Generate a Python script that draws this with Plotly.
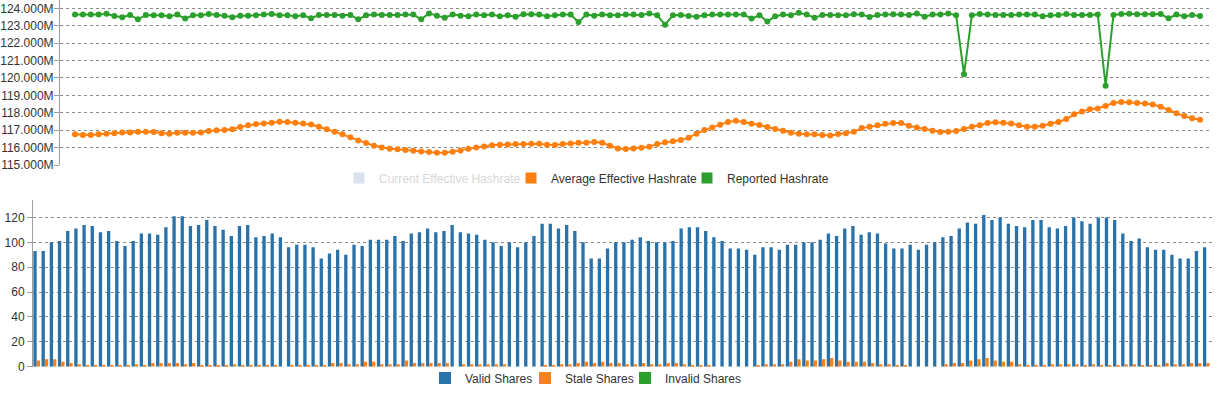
import plotly.graph_objects as go

# ---------------- data ----------------
slots = list(range(144))  # 10-minute slots over 24h

reported_hashrate_m = [
    123.65, 123.65, 123.65, 123.64, 123.69, 123.56, 123.49, 123.62, 123.37, 123.62,
    123.60, 123.60, 123.54, 123.64, 123.41, 123.60, 123.60, 123.67, 123.62, 123.58,
    123.49, 123.58, 123.58, 123.60, 123.64, 123.67, 123.60, 123.60, 123.54, 123.60,
    123.43, 123.62, 123.62, 123.62, 123.58, 123.62, 123.37, 123.60, 123.65, 123.62,
    123.62, 123.62, 123.64, 123.64, 123.37, 123.71, 123.58, 123.46, 123.64, 123.58,
    123.54, 123.64, 123.60, 123.64, 123.54, 123.60, 123.52, 123.66, 123.66, 123.64,
    123.54, 123.60, 123.64, 123.64, 123.21, 123.64, 123.58, 123.64, 123.60, 123.60,
    123.64, 123.64, 123.62, 123.71, 123.60, 123.06, 123.60, 123.62, 123.56, 123.52,
    123.60, 123.64, 123.64, 123.64, 123.64, 123.64, 123.41, 123.60, 123.25, 123.54,
    123.64, 123.60, 123.75, 123.64, 123.46, 123.62, 123.62, 123.60, 123.60, 123.66,
    123.64, 123.50, 123.62, 123.64, 123.66, 123.64, 123.62, 123.71, 123.52, 123.64,
    123.64, 123.71, 123.60, 120.21, 123.60, 123.67, 123.64, 123.62, 123.62, 123.62,
    123.64, 123.64, 123.64, 123.54, 123.60, 123.62, 123.67, 123.62, 123.62, 123.62,
    123.64, 119.56, 123.62, 123.67, 123.69, 123.66, 123.66, 123.66, 123.67, 123.43,
    123.64, 123.54, 123.62, 123.56,
]

average_hashrate_m = [
    116.76, 116.72, 116.72, 116.76, 116.80, 116.83, 116.87, 116.87, 116.91, 116.91,
    116.89, 116.83, 116.80, 116.85, 116.85, 116.85, 116.87, 116.95, 116.99, 117.01,
    117.05, 117.18, 117.28, 117.35, 117.39, 117.43, 117.49, 117.47, 117.43, 117.39,
    117.33, 117.20, 117.06, 116.91, 116.76, 116.59, 116.41, 116.26, 116.11, 116.01,
    115.93, 115.90, 115.86, 115.82, 115.78, 115.74, 115.71, 115.71, 115.76, 115.84,
    115.94, 116.01, 116.07, 116.13, 116.16, 116.18, 116.20, 116.20, 116.22, 116.22,
    116.16, 116.15, 116.20, 116.24, 116.28, 116.28, 116.32, 116.28, 116.11, 115.95,
    115.92, 115.95, 115.99, 116.05, 116.20, 116.30, 116.36, 116.43, 116.57, 116.80,
    117.01, 117.16, 117.31, 117.47, 117.54, 117.47, 117.37, 117.30, 117.18, 117.07,
    116.97, 116.85, 116.80, 116.76, 116.76, 116.72, 116.70, 116.78, 116.82, 116.91,
    117.12, 117.20, 117.28, 117.37, 117.41, 117.41, 117.26, 117.16, 117.07, 116.97,
    116.89, 116.91, 116.95, 117.07, 117.20, 117.28, 117.41, 117.45, 117.43, 117.39,
    117.28, 117.20, 117.20, 117.26, 117.37, 117.47, 117.64, 117.91, 118.08, 118.20,
    118.25, 118.39, 118.56, 118.62, 118.60, 118.56, 118.54, 118.48, 118.35, 118.16,
    117.97, 117.81, 117.68, 117.60,
]

valid_shares = [
    93, 93, 100, 101, 109, 111, 114, 113, 108, 109,
    101, 97, 101, 107, 107, 106, 112, 121, 121, 113,
    114, 118, 113, 110, 105, 113, 114, 104, 105, 107,
    104, 96, 98, 98, 96, 87, 91, 94, 90, 98,
    97, 102, 102, 102, 105, 101, 107, 108, 111, 108,
    109, 114, 108, 107, 106, 102, 100, 97, 100, 96,
    100, 105, 115, 115, 111, 114, 109, 100, 87, 87,
    95, 100, 100, 102, 104, 101, 100, 100, 101, 111,
    112, 112, 109, 104, 101, 95, 95, 94, 90, 96,
    96, 94, 98, 98, 100, 100, 102, 107, 105, 111,
    113, 106, 108, 107, 99, 95, 95, 98, 94, 98,
    100, 104, 105, 111, 116, 115, 122, 118, 120, 115,
    113, 112, 118, 118, 112, 111, 113, 120, 117, 115,
    120, 120, 118, 107, 101, 103, 96, 94, 94, 90,
    87, 87, 93, 96,
]

stale_shares = [
    5, 6, 6, 4, 3, 2, 1, 1, 1, 1,
    1, 1, 2, 1, 3, 3, 3, 3, 2, 3,
    1, 1, 1, 1, 2, 1, 1, 1, 1, 1,
    0, 1, 1, 1, 1, 1, 3, 3, 2, 2,
    4, 4, 2, 2, 2, 5, 3, 3, 3, 3,
    3, 0, 2, 2, 2, 2, 2, 2, 0, 0,
    0, 0, 1, 1, 2, 2, 3, 4, 3, 4,
    3, 3, 2, 2, 3, 2, 2, 3, 3, 2,
    1, 1, 1, 0, 0, 0, 0, 0, 1, 2,
    2, 2, 4, 6, 5, 5, 6, 7, 5, 4,
    4, 4, 3, 2, 2, 1, 1, 0, 0, 0,
    0, 2, 3, 3, 5, 6, 7, 5, 4, 4,
    2, 1, 1, 1, 2, 2, 2, 2, 1, 2,
    1, 1, 1, 2, 2, 1, 1, 1, 3, 2,
    2, 3, 3, 3,
]

invalid_shares = [0] * 144

hashrate_ticks = [115, 116, 117, 118, 119, 120, 121, 122, 123, 124]
hashrate_tick_labels = [f"{v:.3f}M" for v in hashrate_ticks]
share_ticks = [0, 20, 40, 60, 80, 100, 120]

# ---------------- styling ----------------
W, H = 1217, 393
FONT = "Liberation Sans, Arial, sans-serif"
GRID = "#8c8c8c"
AXIS = "#a0a0a0"
BLUE = "#2a72aa"
ORANGE = "#ff7f0e"
ORANGE_BAR = "#f5821f"
GREEN = "#2ca02c"


def px_x(p):
    return p / W


def px_y(p):
    return (H - p) / H


fig = go.Figure()

# ---- top chart: hashrates ----
fig.add_trace(go.Scatter(
    x=slots, y=average_hashrate_m, mode="lines+markers",
    line=dict(color=ORANGE, width=2), marker=dict(color=ORANGE, size=6),
    xaxis="x", yaxis="y", showlegend=False, name="Average Effective Hashrate",
))
fig.add_trace(go.Scatter(
    x=slots, y=reported_hashrate_m, mode="lines+markers",
    line=dict(color=GREEN, width=2), marker=dict(color=GREEN, size=6),
    xaxis="x", yaxis="y", showlegend=False, name="Reported Hashrate",
))

# legend entries (square swatches) for top chart
fig.add_trace(go.Scatter(
    x=[None], y=[None], mode="markers", visible="legendonly",
    marker=dict(symbol="square", size=11, color="#b7c9dd"),
    name="<span style='color:#b0b0b0'>Current Effective Hashrate</span>",
    xaxis="x", yaxis="y", legend="legend", legendwidth=127,
))
fig.add_trace(go.Scatter(
    x=[None], y=[None], mode="markers",
    marker=dict(symbol="square", size=11, color=ORANGE),
    name="Average Effective Hashrate", xaxis="x", yaxis="y", legend="legend",
    legendwidth=131,
))
fig.add_trace(go.Scatter(
    x=[None], y=[None], mode="markers",
    marker=dict(symbol="square", size=11, color=GREEN),
    name="Reported Hashrate", xaxis="x", yaxis="y", legend="legend",
))

# ---- bottom chart: shares ----
fig.add_trace(go.Bar(
    x=slots, y=valid_shares, marker=dict(color=BLUE, line=dict(width=0)),
    name="Valid Shares", xaxis="x2", yaxis="y2", offsetgroup="valid", legend="legend2",
    legendwidth=55,
))
fig.add_trace(go.Bar(
    x=slots, y=stale_shares, marker=dict(color=ORANGE_BAR, line=dict(width=0)),
    name="Stale Shares", xaxis="x2", yaxis="y2", offsetgroup="other", legend="legend2",
    legendwidth=55,
))
fig.add_trace(go.Bar(
    x=slots, y=invalid_shares, marker=dict(color=GREEN, line=dict(width=0)),
    name="Invalid Shares", xaxis="x2", yaxis="y2", offsetgroup="other", legend="legend2",
))

axis_common = dict(automargin=False)

fig.update_layout(
    width=W, height=H,
    margin=dict(l=0, r=0, t=0, b=0, pad=0),
    paper_bgcolor="white", plot_bgcolor="white",
    font=dict(family=FONT, size=12, color="#333333"),
    barmode="group", bargap=0.19, bargroupgap=0,
    xaxis=dict(
        domain=[px_x(60), px_x(1210)], range=[-1.91, 144.27],
        showgrid=False, zeroline=False, showline=False, showticklabels=False,
        ticks="", anchor="y", **axis_common,
    ),
    yaxis=dict(
        domain=[px_y(165), 1.0], range=[115, 124.48],
        tickvals=hashrate_ticks, ticktext=hashrate_tick_labels,
        showgrid=True, gridcolor=GRID, griddash="3px,3px", gridwidth=1,
        zeroline=False, showline=True, linecolor=AXIS, linewidth=1,
        ticks="outside", ticklen=5, tickcolor=AXIS, ticklabelstandoff=-2,
        tickfont=dict(family=FONT, size=12, color="#333333"),
        anchor="x", **axis_common,
    ),
    xaxis2=dict(
        domain=[px_x(33), px_x(1212)], range=[-0.45, 143.7],
        showgrid=False, zeroline=False, showline=False, showticklabels=False,
        ticks="", anchor="y2", **axis_common,
    ),
    yaxis2=dict(
        domain=[px_y(366.7), px_y(200)], range=[0, 134],
        tickvals=share_ticks,
        showgrid=True, gridcolor=GRID, griddash="3px,3px", gridwidth=1,
        zeroline=False, showline=True, linecolor=AXIS, linewidth=1,
        ticks="outside", ticklen=5, tickcolor=AXIS,
        tickfont=dict(family=FONT, size=12, color="#333333"),
        anchor="x2", **axis_common,
    ),
    legend=dict(
        orientation="h", x=px_x(339), xanchor="left",
        y=px_y(178), yanchor="middle",
        font=dict(family=FONT, size=12, color="#333333"),
        bgcolor="rgba(0,0,0,0)", itemclick=False, itemdoubleclick=False,
        traceorder="normal",
    ),
    legend2=dict(
        orientation="h", x=px_x(425), xanchor="left",
        y=px_y(378), yanchor="middle",
        font=dict(family=FONT, size=12, color="#333333"),
        bgcolor="rgba(0,0,0,0)", itemclick=False, itemdoubleclick=False,
        traceorder="normal",
    ),
)

fig.write_html(
    "out.html",
    config={"displayModeBar": False},
    post_script="document.body.style.margin='0';document.body.style.padding='0';",
)
